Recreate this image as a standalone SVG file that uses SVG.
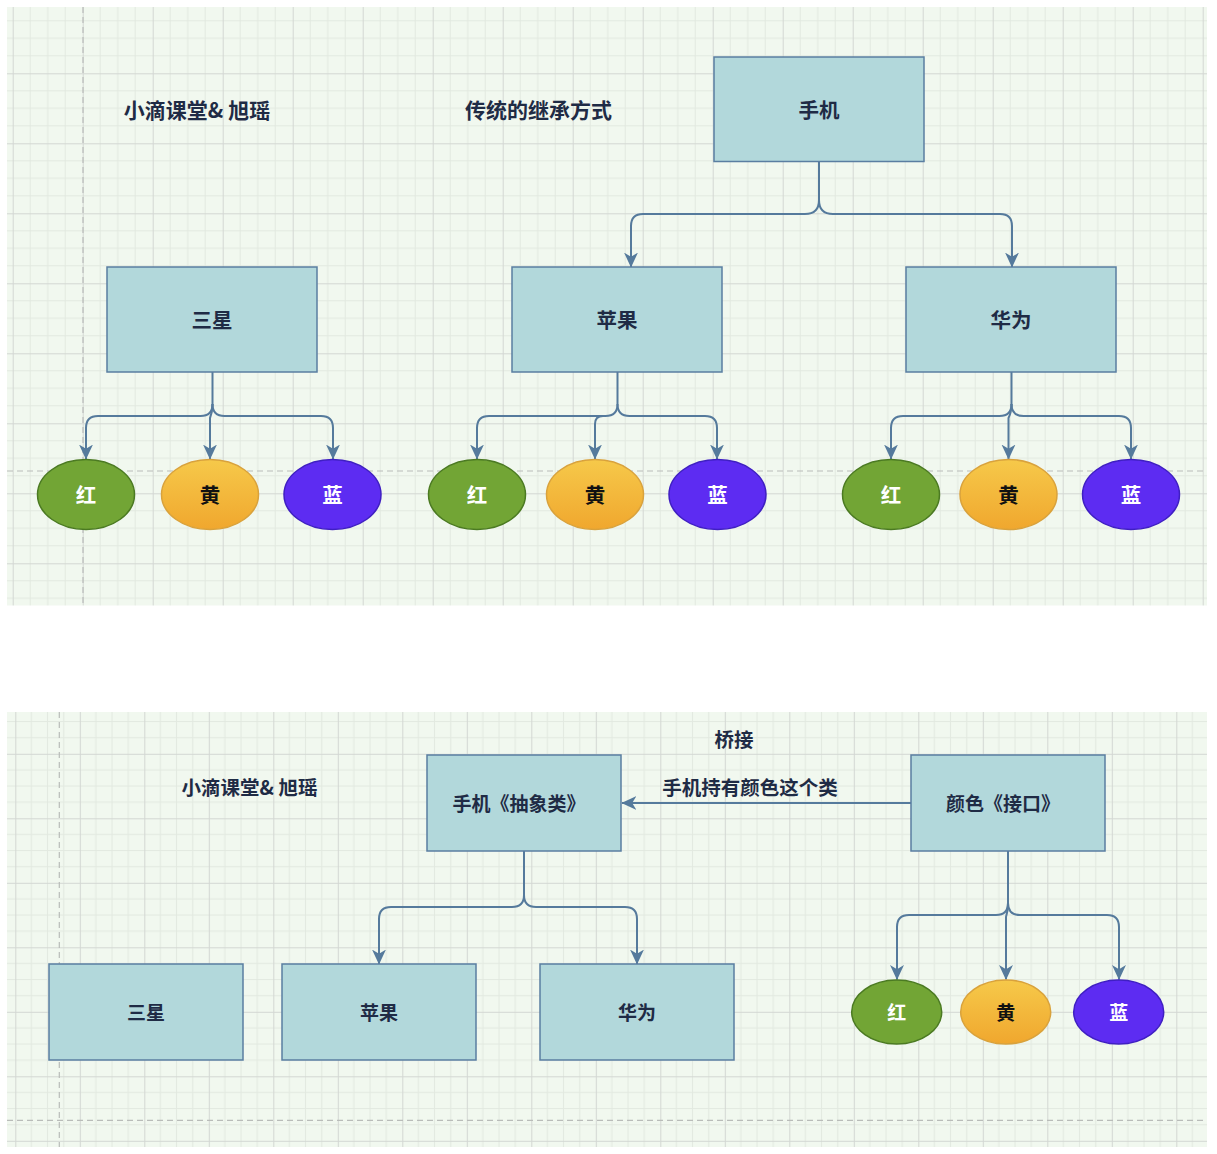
<svg xmlns="http://www.w3.org/2000/svg" width="1217" height="1154" viewBox="0 0 1217 1154">
<defs>
<pattern id="gTop" patternUnits="userSpaceOnUse" x="12.7" y="3.3" width="70" height="70">
<rect width="70" height="70" fill="#f1f8ef"/>
<path d="M17.5,0V70M35,0V70M52.5,0V70M0,17.5H70M0,35H70M0,52.5H70" stroke="#e2e9e0" stroke-width="1" fill="none"/>
<path d="M0.5,0V70M0,0.5H70" stroke="#d3d7d3" stroke-width="1" fill="none"/>
</pattern>
<pattern id="gBot" patternUnits="userSpaceOnUse" x="15.3" y="689.3" width="64.5" height="64.5">
<rect width="64.5" height="64.5" fill="#f1f8ef"/>
<path d="M16.1,0V64.5M32.25,0V64.5M48.4,0V64.5M0,16.1H64.5M0,32.25H64.5M0,48.4H64.5" stroke="#e2e9e0" stroke-width="1" fill="none"/>
<path d="M0.5,0V64.5M0,0.5H64.5" stroke="#d3d7d3" stroke-width="1" fill="none"/>
</pattern>
<linearGradient id="yel" x1="0" y1="0" x2="0" y2="1">
<stop offset="0" stop-color="#f6c94a"/>
<stop offset="1" stop-color="#f0a72e"/>
</linearGradient>
<marker id="arr" viewBox="0 0 14 14" refX="13.5" refY="7" markerWidth="15" markerHeight="15" markerUnits="userSpaceOnUse" orient="auto">
<path d="M0,0.5 L14,7 L0,13.5 L4,7 Z" fill="#557a9c"/>
</marker>
<style>
.box{fill:#b2d8db;stroke:#5a7ea1;stroke-width:1.5}
.g{fill:#72a535;stroke:#4b7a22;stroke-width:1.5}
.y{fill:url(#yel);stroke:#d9a23c;stroke-width:1.5}
.b{fill:#5d2cf2;stroke:#3f1fc2;stroke-width:1.5}
.dash{stroke:#b9bcb9;stroke-width:1.2;stroke-dasharray:6,4;fill:none}
.c{fill:none;stroke:#557a9c;stroke-width:2;marker-end:url(#arr)}
text{font-family:"Noto Sans CJK SC","Noto Sans",sans-serif;font-weight:bold;text-anchor:middle;dominant-baseline:central}
.t{font-size:20.5px;fill:#1f2b45}
.tb{font-size:19px;fill:#1f2b45}
.lab{font-size:21px;fill:#1f2b45}
.labb{font-size:19.5px;fill:#1f2b45}
.w{font-size:20.5px;fill:#ffffff}
.k{font-size:20.5px;fill:#111111}
.ws{font-size:19px;fill:#ffffff}
.ks{font-size:19px;fill:#111111}
</style>
</defs>
<rect width="1217" height="1154" fill="#ffffff"/>
<!-- top panel -->
<rect x="7" y="7" width="1200" height="598.5" fill="url(#gTop)"/>
<line class="dash" x1="83" y1="7" x2="83" y2="605.5"/>
<line class="dash" x1="7" y1="471" x2="1207" y2="471"/>
<!-- bottom panel -->
<rect x="7" y="712" width="1200" height="435" fill="url(#gBot)"/>
<line class="dash" x1="59.3" y1="712" x2="59.3" y2="1147"/>
<line class="dash" x1="7" y1="1120.3" x2="1207" y2="1120.3"/>

<g id="labels">
<text class="lab" x="197" y="109">小滴课堂&amp; 旭瑶</text>
<text class="lab" x="538.5" y="109">传统的继承方式</text>
<text class="labb" x="249.5" y="786">小滴课堂&amp; 旭瑶</text>
<text class="labb" x="734" y="738">桥接</text>
</g>

<g id="connectors">
<path class="c" d="M819,161 V200 Q819,214 805,214 H643 Q631,214 631,226 V267"/>
<path class="c" d="M819,200 Q819,214 833,214 H1000 Q1012,214 1012,226 V267"/>

<path class="c" d="M212.5,372 V404 Q212.5,416 200.5,416 H98 Q86,416 86,428 V459"/>
<path class="c" d="M212.5,404 Q212.5,416 224.5,416 H321 Q333,416 333,428 V459"/>
<path class="c" d="M212.5,404 Q212.5,412 210,418 V459"/>

<path class="c" d="M617.5,372 V404 Q617.5,416 605.5,416 H489 Q477,416 477,428 V459"/>
<path class="c" d="M617.5,404 Q617.5,416 629.5,416 H705 Q717,416 717,428 V459"/>
<path class="c" d="M605.5,416 H603 Q595,416 595,424 V459"/>

<path class="c" d="M1011.5,372 V404 Q1011.5,416 999.5,416 H903 Q891,416 891,428 V459"/>
<path class="c" d="M1011.5,404 Q1011.5,416 1023.5,416 H1119 Q1131,416 1131,428 V459"/>
<path class="c" d="M1011.5,404 Q1011.5,412 1008.5,418 V459"/>

<path class="c" d="M524,851 V895 Q524,907 512,907 H391 Q379,907 379,919 V964"/>
<path class="c" d="M524,895 Q524,907 536,907 H625 Q637,907 637,919 V964"/>

<path class="c" d="M1008,851 V903 Q1008,915 996,915 H909 Q897,915 897,927 V979.5"/>
<path class="c" d="M1008,903 Q1008,915 1020,915 H1107 Q1119,915 1119,927 V979.5"/>
<path class="c" d="M1008,903 Q1008,911 1006,917 V979.5"/>

<path class="c" d="M911,803 H622"/>
<text class="labb" x="750" y="786">手机持有颜色这个类</text>
</g>

<g id="n-phone"><rect class="box" x="714" y="57" width="210" height="104.5"/><text class="t" x="819" y="108.5">手机</text></g>
<g id="n-samsung"><rect class="box" x="107" y="267" width="210" height="105"/><text class="t" x="212" y="318.5">三星</text></g>
<g id="n-apple"><rect class="box" x="512" y="267" width="210" height="105"/><text class="t" x="617" y="318.5">苹果</text></g>
<g id="n-huawei"><rect class="box" x="906" y="267" width="210" height="105"/><text class="t" x="1011" y="318.5">华为</text></g>

<g id="e-s-red"><ellipse class="g" cx="86" cy="494.5" rx="48.5" ry="35"/><text class="w" x="86" y="493.5">红</text></g>
<g id="e-s-yel"><ellipse class="y" cx="210" cy="494.5" rx="48.5" ry="35"/><text class="k" x="210" y="493.5">黄</text></g>
<g id="e-s-blu"><ellipse class="b" cx="332.5" cy="494.5" rx="48.5" ry="35"/><text class="w" x="332.5" y="493.5">蓝</text></g>

<g id="e-a-red"><ellipse class="g" cx="477" cy="494.5" rx="48.5" ry="35"/><text class="w" x="477" y="493.5">红</text></g>
<g id="e-a-yel"><ellipse class="y" cx="595" cy="494.5" rx="48.5" ry="35"/><text class="k" x="595" y="493.5">黄</text></g>
<g id="e-a-blu"><ellipse class="b" cx="717.5" cy="494.5" rx="48.5" ry="35"/><text class="w" x="717.5" y="493.5">蓝</text></g>

<g id="e-h-red"><ellipse class="g" cx="891" cy="494.5" rx="48.5" ry="35"/><text class="w" x="891" y="493.5">红</text></g>
<g id="e-h-yel"><ellipse class="y" cx="1008.5" cy="494.5" rx="48.5" ry="35"/><text class="k" x="1008.5" y="493.5">黄</text></g>
<g id="e-h-blu"><ellipse class="b" cx="1131" cy="494.5" rx="48.5" ry="35"/><text class="w" x="1131" y="493.5">蓝</text></g>

<g id="n-abstract"><rect class="box" x="427" y="755" width="194" height="96"/><text class="tb" x="519" y="802">手机《抽象类》</text></g>
<g id="n-color"><rect class="box" x="911" y="755" width="194" height="96"/><text class="tb" x="1003" y="802">颜色《接口》</text></g>
<g id="n-samsung2"><rect class="box" x="49" y="964" width="194" height="96"/><text class="tb" x="146" y="1011">三星</text></g>
<g id="n-apple2"><rect class="box" x="282" y="964" width="194" height="96"/><text class="tb" x="379" y="1011">苹果</text></g>
<g id="n-huawei2"><rect class="box" x="540" y="964" width="194" height="96"/><text class="tb" x="637" y="1011">华为</text></g>

<g id="e2-red"><ellipse class="g" cx="896.7" cy="1012" rx="45" ry="32"/><text class="ws" x="896.7" y="1011">红</text></g>
<g id="e2-yel"><ellipse class="y" cx="1005.7" cy="1012" rx="45" ry="32"/><text class="ks" x="1005.7" y="1011">黄</text></g>
<g id="e2-blu"><ellipse class="b" cx="1118.7" cy="1012" rx="45" ry="32"/><text class="ws" x="1118.7" y="1011">蓝</text></g>
</svg>
